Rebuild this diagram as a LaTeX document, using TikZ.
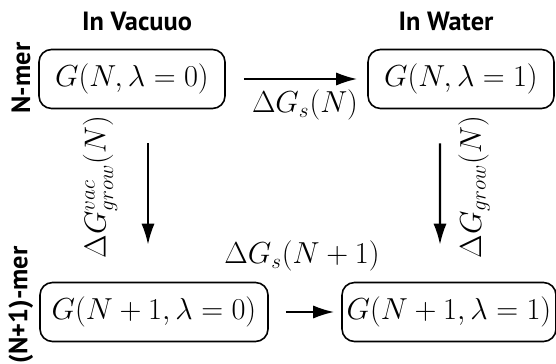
\documentclass[tikz,border=0pt]{standalone}
\usepackage{fontspec}
\newfontfamily\hdrfont{PT Sans}
\usetikzlibrary{arrows.meta}

\begin{document}
\begin{tikzpicture}[>={Latex[length=12pt,width=7.5pt]},
        state/.style={rectangle, draw, rounded corners=0.25cm, line width=0.9pt,
            minimum height=1.18cm, inner xsep=2pt, font=\LARGE},
        hdr/.style={font=\hdrfont\bfseries\fontsize{15}{17}\selectfont},
        flow/.style={->, line width=1.2pt},
        energy/.style={font=\LARGE}]
        \useasboundingbox (0, 0) rectangle (11.12, -7.28);

        % Headers
        \node[hdr] (vac) at (2.74, -0.42) {In Vacuuo};
        \node[hdr] (wat) at (8.92, -0.42) {In Water};
        \node[hdr, rotate=90] (nmer) at (0.42, -1.56) {N-mer};
        \node[hdr, rotate=90] (n1mer) at (0.42, -6.1) {(N+1)-mer};

        % States
        \node[state, minimum width=3.72cm] (g0) at (2.64, -1.58) {$G(N, \lambda=0)$};
        \node[state, minimum width=3.72cm] (g1) at (9.22, -1.58) {$G(N, \lambda=1)$};
        \node[state, minimum width=4.56cm] (h0) at (3.08, -6.24) {$G(N+1, \lambda=0)$};
        \node[state, minimum width=4.28cm] (h1) at (8.98, -6.24) {$G(N+1, \lambda=1)$};

        % Connections
        \draw[flow, shorten <=0.36cm, shorten >=0.2cm] (g0) -- (g1);
        \draw[flow, shorten <=0.68cm, shorten >=0.74cm] ([xshift=0.32cm]g0.south) -- ([xshift=-0.12cm]h0.north);
        \draw[flow, shorten <=0.68cm, shorten >=0.74cm] ([xshift=-0.42cm]g1.south) -- ([xshift=-0.18cm]h1.north);
        \draw[flow, shorten <=0.34cm, shorten >=0.14cm] (h0) -- (h1);

        % Free energies
        \node[energy] (dgs) at (6.1, -2.1) {$\Delta G_s(N)$};
        \node[energy] (dgs1) at (6.04, -5.12) {$\Delta G_s(N+1)$};
        \node[energy, rotate=90] (dgvac) at (2.0, -3.74) {$\Delta G^{vac}_{grow}(N)$};
        \node[energy, rotate=90] (dgwat) at (9.48, -3.74) {$\Delta G_{grow}(N)$};
    \end{tikzpicture}
\end{document}
